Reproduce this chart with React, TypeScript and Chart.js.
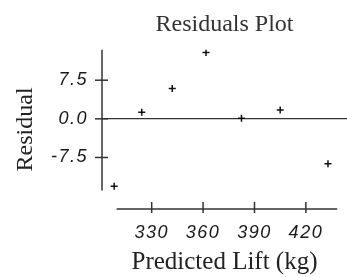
import React, { useEffect, useRef } from "react";
import { Chart, registerables } from "chart.js";

Chart.register(...registerables);

// ---- data ----
const PREDICTED: number[] = [308.1, 324.2, 342.0, 361.7, 382.4, 405.0, 432.9];
const RESIDUALS: number[] = [-13.1, 1.3, 5.9, 12.9, 0.1, 1.7, -8.7];
const X_TICKS: number[] = [330, 360, 390, 420];
const Y_TICKS: number[] = [-7.5, 0, 7.5];
const X_RANGE: number[] = [301, 444];
const Y_RANGE: number[] = [-17.5, 13.4];
// extents of the drawn (range-frame) axis lines, in data units
const X_AXIS_SPAN: number[] = [309.5, 438.3];
const Y_AXIS_SPAN: number[] = [-13.9, 13.4];

const TITLE = "Residuals Plot";
const X_TITLE = "Predicted Lift (kg)";
const Y_TITLE = "Residual";

const AXIS_COLOR = "#333333";
const SERIF = "'Liberation Serif', 'Times New Roman', serif";
const SANS = "'Liberation Sans', Arial, sans-serif";

const rangeFrame = {
  id: "rangeFrame",
  beforeDraw(chart: any) {
    chart.ctx.letterSpacing = "0px";
  },
  afterDatasetsDraw(chart: any) {
    // tick labels (z = 1) are drawn after this point
    chart.ctx.letterSpacing = "1.5px";
  },
  afterDraw(chart: any) {
    const { ctx, chartArea } = chart;
    ctx.letterSpacing = "0px";
    const x = chart.scales.x;
    const y = chart.scales.y;
    ctx.save();
    ctx.strokeStyle = AXIS_COLOR;
    ctx.lineWidth = 1.5;
    // y axis line + crossing ticks
    const ax = chartArea.left;
    ctx.beginPath();
    ctx.moveTo(ax, y.getPixelForValue(Y_AXIS_SPAN[1]));
    ctx.lineTo(ax, y.getPixelForValue(Y_AXIS_SPAN[0]));
    ctx.stroke();
    y.ticks.forEach((t: any) => {
      const py = y.getPixelForValue(t.value);
      ctx.beginPath();
      ctx.moveTo(ax - 7, py);
      ctx.lineTo(ax + 6, py);
      ctx.stroke();
    });
    // x axis line + crossing ticks
    const ay = chartArea.bottom;
    ctx.beginPath();
    ctx.moveTo(x.getPixelForValue(X_AXIS_SPAN[0]), ay);
    ctx.lineTo(x.getPixelForValue(X_AXIS_SPAN[1]), ay);
    ctx.stroke();
    x.ticks.forEach((t: any) => {
      const px = x.getPixelForValue(t.value);
      ctx.beginPath();
      ctx.moveTo(px, ay - 7);
      ctx.lineTo(px, ay + 4);
      ctx.stroke();
    });
    ctx.restore();
  },
};

export default function App() {
  const ref = useRef<HTMLCanvasElement | null>(null);

  useEffect(() => {
    if (!ref.current) return;
    const chart = new Chart(ref.current, {
      type: "scatter",
      data: {
        datasets: [
          {
            data: PREDICTED.map((v, i) => ({ x: v, y: RESIDUALS[i] })),
            pointStyle: "cross",
            pointRadius: 3.5,
            pointBorderWidth: 1.5,
            borderColor: "#111111",
            backgroundColor: "#111111",
          },
        ],
      },
      options: {
        animation: false,
        responsive: true,
        maintainAspectRatio: false,
        layout: { padding: 0, autoPadding: false },
        plugins: {
          legend: { display: false },
          tooltip: { enabled: false },
          title: {
            display: true,
            text: TITLE,
            fullSize: false,
            color: "#333333",
            font: { family: SERIF, size: 24, weight: "normal" },
            padding: { top: 10, bottom: 11 },
          },
        },
        scales: {
          x: {
            type: "linear",
            position: "bottom",
            min: X_RANGE[0],
            max: X_RANGE[1],
            afterBuildTicks: (s: any) => {
              s.ticks = X_TICKS.map((v) => ({ value: v }));
            },
            afterFit: (s: any) => {
              s.height = 68;
              s.paddingLeft = 0;
              s.paddingRight = 0;
            },
            grid: { display: false, drawTicks: false },
            border: { display: false },
            ticks: {
              z: 1,
              padding: 13,
              color: "#1a1a1a",
              font: { family: SANS, size: 18, style: "italic" },
              callback: (v: any) => String(v),
            },
            title: {
              display: true,
              text: X_TITLE,
              color: "#222222",
              font: { family: SERIF, size: 25, weight: "normal" },
              padding: { top: 0, bottom: 0 },
            },
          },
          y: {
            type: "linear",
            position: "left",
            min: Y_RANGE[0],
            max: Y_RANGE[1],
            afterBuildTicks: (s: any) => {
              s.ticks = Y_TICKS.map((v) => ({ value: v }));
            },
            afterFit: (s: any) => {
              s.width = 102;
              s.paddingTop = 0;
              s.paddingBottom = 0;
            },
            grid: {
              display: true,
              drawTicks: false,
              lineWidth: 1.3,
              color: (c: any) => (c.tick && c.tick.value === 0 ? AXIS_COLOR : "rgba(0,0,0,0)"),
            },
            border: { display: false },
            ticks: {
              z: 1,
              padding: 14,
              color: "#1a1a1a",
              font: { family: SANS, size: 18, style: "italic" },
              callback: (v: any) => Number(v).toFixed(1),
            },
            title: {
              display: true,
              text: Y_TITLE,
              color: "#222222",
              font: { family: SERIF, size: 24, weight: "normal" },
              padding: { top: 11, bottom: 0 },
            },
          },
        },
      },
      plugins: [rangeFrame],
    });
    return () => chart.destroy();
  }, []);

  return (
    <div style={{ position: "fixed", left: 0, top: 0, width: 347, height: 277, background: "#ffffff" }}>
      <canvas ref={ref} />
    </div>
  );
}
